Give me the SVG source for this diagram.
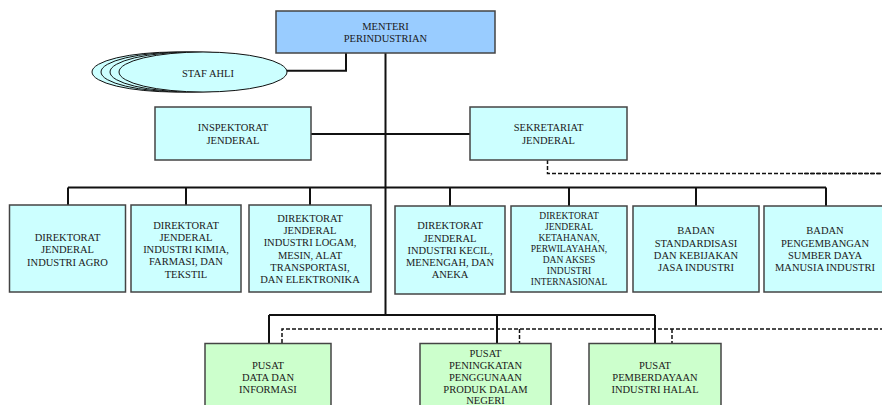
<svg xmlns="http://www.w3.org/2000/svg" width="882" height="405" viewBox="0 0 882 405">
<style>
.box{stroke:#444;stroke-width:1.5}
.blue{fill:#99CCFF}
.cyan{fill:#CCFFFF}
.green{fill:#CCFFCC}
text{font-family:"Liberation Serif","Times New Roman",serif;font-size:10.5px;fill:#1a1a1a;text-anchor:middle;dominant-baseline:central}
.sm{font-size:9.5px}
.ln{fill:none;stroke:#111;stroke-width:2}
.dash{fill:none;stroke:#111;stroke-width:1.5;stroke-dasharray:4 2}
.ell{fill:#CCFFFF;stroke:#111;stroke-width:1}
</style>
<rect width="882" height="405" fill="#fff"/>
<g id="connectors">
<path class="ln" d="M346 53 V70.7 H287"/>
<path class="ln" d="M385.5 53 V315"/>
<path class="ln" d="M311 134 H470"/>
<path class="ln" d="M68 187.5 H826 M68 187.5 V205 M186 187.5 V205 M310 187.5 V205 M450 187.5 V206 M569 187.5 V206 M696 187.5 V206 M826 187.5 V206"/>
<path class="ln" d="M269 315 H655 M269 315 V343 M497 315 V343 M655 315 V343"/>
<path class="dash" d="M547.5 160 V173.5 H882"/>
<path class="dash" d="M802 173.5 H882" stroke-dashoffset="3"/>
<path class="dash" d="M282 343 V329 H882 M519.5 329 V343 M672 329 V343"/>
</g>
<g id="menteri">
<rect class="box blue" x="276" y="11" width="219" height="42"/>
<text x="385.5" y="26">MENTERI</text>
<text x="385.5" y="38.7">PERINDUSTRIAN</text>
</g>
<g id="staf-ahli">
<ellipse class="ell" cx="176" cy="72" rx="84" ry="20"/>
<ellipse class="ell" cx="185" cy="72" rx="84" ry="20"/>
<ellipse class="ell" cx="194" cy="72" rx="84" ry="20"/>
<ellipse class="ell" cx="203" cy="72" rx="84" ry="20"/>
<text x="208" y="73">STAF AHLI</text>
</g>
<g id="inspektorat">
<rect class="box cyan" x="155" y="107" width="156" height="53"/>
<text x="233" y="127.7">INSPEKTORAT</text>
<text x="233" y="140">JENDERAL</text>
</g>
<g id="sekretariat">
<rect class="box cyan" x="470" y="107" width="157" height="53"/>
<text x="548.5" y="127.7">SEKRETARIAT</text>
<text x="548.5" y="140">JENDERAL</text>
</g>
<g id="dj-agro">
<rect class="box cyan" x="9.5" y="205" width="116" height="87"/>
<text x="67.5" y="237">DIREKTORAT</text>
<text x="67.5" y="249.5">JENDERAL</text>
<text x="67.5" y="262">INDUSTRI AGRO</text>
</g>
<g id="dj-kimia">
<rect class="box cyan" x="131" y="205" width="110" height="87"/>
<text x="186" y="225">DIREKTORAT</text>
<text x="186" y="237.3">JENDERAL</text>
<text x="186" y="249.6">INDUSTRI KIMIA,</text>
<text x="186" y="261.9">FARMASI, DAN</text>
<text x="186" y="274.2">TEKSTIL</text>
</g>
<g id="dj-logam">
<rect class="box cyan" x="249" y="205" width="122" height="87"/>
<text x="310" y="218.3">DIREKTORAT</text>
<text x="310" y="230.6">JENDERAL</text>
<text x="310" y="242.9">INDUSTRI LOGAM,</text>
<text x="310" y="255.2">MESIN, ALAT</text>
<text x="310" y="267.5">TRANSPORTASI,</text>
<text x="310" y="279.8">DAN ELEKTRONIKA</text>
</g>
<g id="dj-ikma">
<rect class="box cyan" x="395" y="206" width="110" height="88"/>
<text x="450" y="225.7">DIREKTORAT</text>
<text x="450" y="238">JENDERAL</text>
<text x="450" y="250.3">INDUSTRI KECIL,</text>
<text x="450" y="262.6">MENENGAH, DAN</text>
<text x="450" y="274.9">ANEKA</text>
</g>
<g id="dj-ketahanan">
<rect class="box cyan" x="511" y="206" width="116" height="86"/>
<text class="sm" x="569" y="215.7">DIREKTORAT</text>
<text class="sm" x="569" y="226.7">JENDERAL</text>
<text class="sm" x="569" y="237.7">KETAHANAN,</text>
<text class="sm" x="569" y="248.7">PERWILAYAHAN,</text>
<text class="sm" x="569" y="259.7">DAN AKSES</text>
<text class="sm" x="569" y="270.7">INDUSTRI</text>
<text class="sm" x="569" y="281.7">INTERNASIONAL</text>
</g>
<g id="bskji">
<rect class="box cyan" x="633" y="206" width="126" height="86"/>
<text x="696" y="230.7">BADAN</text>
<text x="696" y="243">STANDARDISASI</text>
<text x="696" y="255.3">DAN KEBIJAKAN</text>
<text x="696" y="267.6">JASA INDUSTRI</text>
</g>
<g id="bpsdmi">
<rect class="box cyan" x="764" y="206" width="122" height="86"/>
<text x="825" y="230.7">BADAN</text>
<text x="825" y="243">PENGEMBANGAN</text>
<text x="825" y="255.3">SUMBER DAYA</text>
<text x="825" y="267.6">MANUSIA INDUSTRI</text>
</g>
<g id="pusdatin">
<rect class="box green" x="205" y="343.5" width="126" height="70"/>
<text x="268" y="365">PUSAT</text>
<text x="268" y="377.3">DATA DAN</text>
<text x="268" y="389.6">INFORMASI</text>
</g>
<g id="p3dn">
<rect class="box green" x="420" y="343.5" width="131" height="70"/>
<text x="485.5" y="353">PUSAT</text>
<text x="485.5" y="365">PENINGKATAN</text>
<text x="485.5" y="377">PENGGUNAAN</text>
<text x="485.5" y="389">PRODUK DALAM</text>
<text x="485.5" y="400.5">NEGERI</text>
</g>
<g id="halal">
<rect class="box green" x="589" y="343.5" width="132" height="70"/>
<text x="655" y="365">PUSAT</text>
<text x="655" y="377.3">PEMBERDAYAAN</text>
<text x="655" y="389.6">INDUSTRI HALAL</text>
</g>
</svg>
